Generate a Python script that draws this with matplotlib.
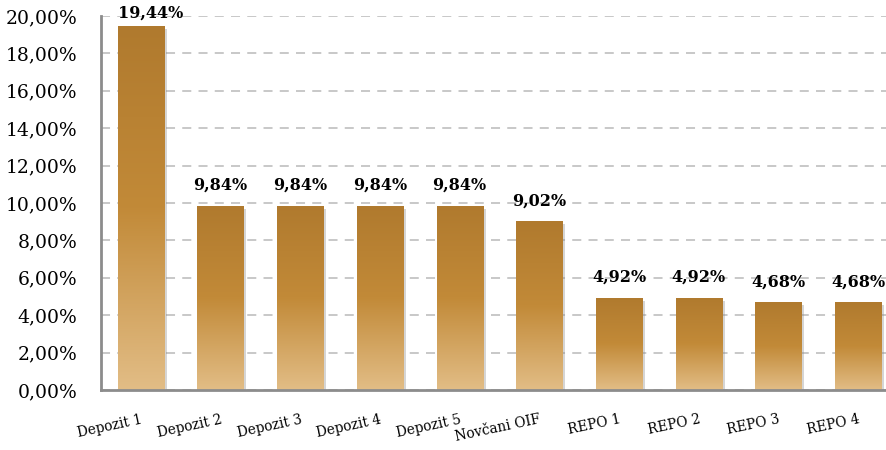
import numpy as np
import matplotlib
matplotlib.use("Agg")
import matplotlib.pyplot as plt
from matplotlib import patheffects as pe
from matplotlib.colors import LinearSegmentedColormap
from matplotlib.ticker import FuncFormatter, MultipleLocator

categories = ["Depozit 1", "Depozit 2", "Depozit 3", "Depozit 4", "Depozit 5",
              "Novčani OIF", "REPO 1", "REPO 2", "REPO 3", "REPO 4"]
values = [19.44, 9.84, 9.84, 9.84, 9.84, 9.02, 4.92, 4.92, 4.68, 4.68]
value_labels = ["19,44%", "9,84%", "9,84%", "9,84%", "9,84%", "9,02%",
                "4,92%", "4,92%", "4,68%", "4,68%"]

W, H = 886, 450
fig = plt.figure(figsize=(W / 100, H / 100), dpi=100)
ax = fig.add_axes([101 / W, 1 - 390 / H, 797 / W, 374 / H])

x = np.arange(len(categories))
bars = ax.bar(x, values, width=0.58, color="none", edgecolor="none", zorder=3)

cmap = LinearSegmentedColormap.from_list(
    "gold", [(0.0, "#e2bd86"), (0.5, "#c28a38"), (1.0, "#b07a2e")])
grad = np.linspace(0, 1, 256).reshape(-1, 1)
for b in bars:
    x0, y0 = b.get_x(), b.get_y()
    w, h = b.get_width(), b.get_height()
    sh = plt.Rectangle((x0, y0), w, h, facecolor="#000000", alpha=0.0, zorder=2,
                       path_effects=[pe.SimplePatchShadow(offset=(2, -2), shadow_rgbFace="#888888", alpha=0.35)])
    ax.add_patch(sh)
    im = ax.imshow(grad, cmap=cmap, aspect="auto", origin="lower",
                   extent=(x0, x0 + w, y0, y0 + h), zorder=3, interpolation="bicubic")
    im.set_clip_path(b)

ax.set_xlim(-0.5, len(categories) - 0.5)
ax.set_ylim(0, 20)
ax.yaxis.set_major_locator(MultipleLocator(2))
ax.yaxis.set_major_formatter(FuncFormatter(lambda v, p: f"{v:.2f}".replace(".", ",") + "%"))

ax.grid(axis="y", color="#c4c4c4", linestyle=(0, (5, 4)), linewidth=1.3, zorder=0)
ax.set_axisbelow(True)
for s in ["top", "right"]:
    ax.spines[s].set_visible(False)
for s in ["left", "bottom"]:
    ax.spines[s].set_color("#8c8c8c")
    ax.spines[s].set_linewidth(2)
    ax.spines[s].set_zorder(5)

ax.tick_params(axis="y", length=0, pad=17, labelsize=13.5)
ax.tick_params(axis="x", length=0, pad=16, labelsize=9.8)
for lab in ax.get_yticklabels():
    lab.set_fontfamily("DejaVu Serif")
ax.set_xticks(x)
ax.set_xticklabels(categories, rotation=12, ha="right", rotation_mode="anchor",
                   fontfamily="DejaVu Serif")

for xi, v, lab in zip(x, values, value_labels):
    off = (0, 12) if v < 18 else (10, 5)
    ax.annotate(lab, (xi, v), xytext=off, textcoords="offset pixels",
                ha="center", va="bottom", fontsize=11.5, fontweight="bold",
                fontfamily="DejaVu Serif", zorder=6, annotation_clip=False)

fig.savefig("out.png", dpi=100)
